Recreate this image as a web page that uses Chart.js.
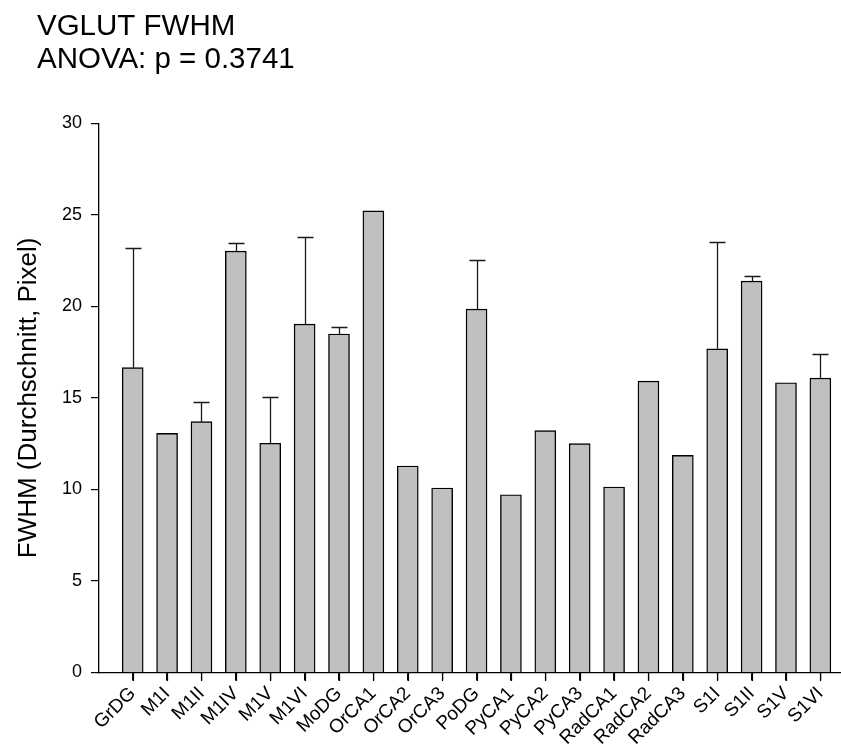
<!DOCTYPE html>
<html>
<head>
<meta charset="utf-8">
<title>VGLUT FWHM</title>
<script src="https://cdn.jsdelivr.net/npm/chart.js@4.4.1/dist/chart.umd.min.js"></script>
<style>
  html, body { margin: 0; padding: 0; background: #ffffff; }
  #wrap { width: 841px; height: 753px; }
</style>
</head>
<body>
<div id="wrap"><canvas id="chart" width="841" height="753"></canvas></div>
<script>
// Regions (x categories)
const regions = ["GrDG", "M1I", "M1II", "M1IV", "M1V", "M1VI", "MoDG", "OrCA1", "OrCA2", "OrCA3",
                 "PoDG", "PyCA1", "PyCA2", "PyCA3", "RadCA1", "RadCA2", "RadCA3", "S1I", "S1II", "S1V", "S1VI"];

// Mean FWHM per region (pixels)
const meanFwhm = [16.65, 13.06, 13.70, 23.02, 12.52, 19.03, 18.49, 25.22, 11.28, 10.08,
                  19.85, 9.71, 13.21, 12.50, 10.13, 15.92, 11.86, 17.68, 21.38, 15.83, 16.08];

// Upper error (standard deviation); 0 where no error bar is shown
const sdFwhm = [6.55, 0, 1.07, 0.42, 2.53, 4.75, 0.40, 0, 0, 0,
                2.66, 0, 0, 0, 0, 0, 0, 5.83, 0.29, 0, 1.30];

// Y axis ticks
const yTicks = [0, 5, 10, 15, 20, 25, 30];

const titleLines = ["VGLUT FWHM", "ANOVA: p = 0.3741"];
const yTitle = "FWHM (Durchschnitt, Pixel)";

const FONT = "'Liberation Sans', Arial, Helvetica, sans-serif";

// Two-line heading in the top-left corner
const headingPlugin = {
  id: 'heading',
  afterDraw(chart) {
    const ctx = chart.ctx;
    ctx.save();
    ctx.fillStyle = '#000';
    ctx.font = `29.5px ${FONT}`;
    ctx.textAlign = 'left';
    ctx.textBaseline = 'alphabetic';
    ctx.fillText(titleLines[0], 37, 34.5);
    ctx.fillText(titleLines[1], 37, 68);
    ctx.restore();
  }
};

// Outward tick marks under each region on the x axis
const xTickMarks = {
  id: 'xTickMarks',
  afterDraw(chart) {
    const ctx = chart.ctx;
    const xs = chart.scales.x;
    const yAxis = Math.round(chart.chartArea.bottom);
    ctx.save();
    ctx.strokeStyle = '#000';
    ctx.lineWidth = 1.2;
    ctx.beginPath();
    regions.forEach((_, i) => {
      const x = Math.round(xs.getPixelForValue(i)) + 0.5;
      ctx.moveTo(x, yAxis);
      ctx.lineTo(x, yAxis + 8);
    });
    ctx.stroke();
    ctx.restore();
  }
};

// Upward-only error bars with caps
const errorBarPlugin = {
  id: 'errorBars',
  afterDatasetsDraw(chart) {
    const ctx = chart.ctx;
    const yScale = chart.scales.y;
    const meta = chart.getDatasetMeta(0);
    const capHalf = 8;
    ctx.save();
    ctx.strokeStyle = '#1a1a1a';
    ctx.lineWidth = 1.3;
    meta.data.forEach((bar, i) => {
      const sd = sdFwhm[i];
      if (!sd) return;
      const x = Math.round(bar.x) + 0.5;
      const yBase = yScale.getPixelForValue(meanFwhm[i]);
      const yTop = Math.round(yScale.getPixelForValue(meanFwhm[i] + sd)) + 0.5;
      ctx.beginPath();
      ctx.moveTo(x, yBase);
      ctx.lineTo(x, yTop);
      ctx.moveTo(x - capHalf, yTop);
      ctx.lineTo(x + capHalf, yTop);
      ctx.stroke();
    });
    ctx.restore();
  }
};

new Chart(document.getElementById('chart'), {
  type: 'bar',
  data: {
    datasets: [{
      data: meanFwhm.map((v, i) => ({ x: i, y: v })),
      backgroundColor: '#c0c0c0',
      borderColor: '#000000',
      borderWidth: 1.4,
      barThickness: 21
    }]
  },
  options: {
    responsive: false,
    animation: false,
    devicePixelRatio: 1,
    layout: { padding: { top: 123.3, left: 0, right: 0, bottom: 0 } },
    plugins: {
      legend: { display: false },
      title: { display: false },
      tooltip: { enabled: false }
    },
    scales: {
      x: {
        type: 'linear',
        offset: false,
        min: -0.98,
        max: 20.6,
        afterBuildTicks(scale) {
          scale.ticks = regions.map((_, i) => ({ value: i }));
        },
        afterFit(scale) { scale.height = 80.5; },
        grid: {
          offset: false,
          drawOnChartArea: false,
          drawTicks: true,
          tickLength: 8,
          color: '#000',
          lineWidth: 1.2
        },
        border: { display: true, color: '#000', width: 1.3 },
        ticks: {
          autoSkip: false,
          minRotation: 45,
          maxRotation: 45,
          padding: 2,
          color: '#000',
          font: { family: FONT, size: 19 },
          callback: (v) => regions[v]
        }
      },
      y: {
        min: 0,
        max: 30,
        afterBuildTicks(scale) {
          scale.ticks = yTicks.map(v => ({ value: v }));
        },
        afterFit(scale) { scale.width = 99; },
        grid: {
          drawOnChartArea: false,
          drawTicks: true,
          tickLength: 8,
          color: '#000',
          lineWidth: 1.2
        },
        border: { display: true, color: '#000', width: 1.3 },
        ticks: {
          padding: 9,
          color: '#000',
          font: { family: FONT, size: 18 }
        },
        title: {
          display: true,
          text: yTitle,
          color: '#000',
          font: { family: FONT, size: 26 },
          padding: { top: 13, bottom: 0 }
        }
      }
    }
  },
  plugins: [headingPlugin, errorBarPlugin, xTickMarks]
});
</script>
</body>
</html>
